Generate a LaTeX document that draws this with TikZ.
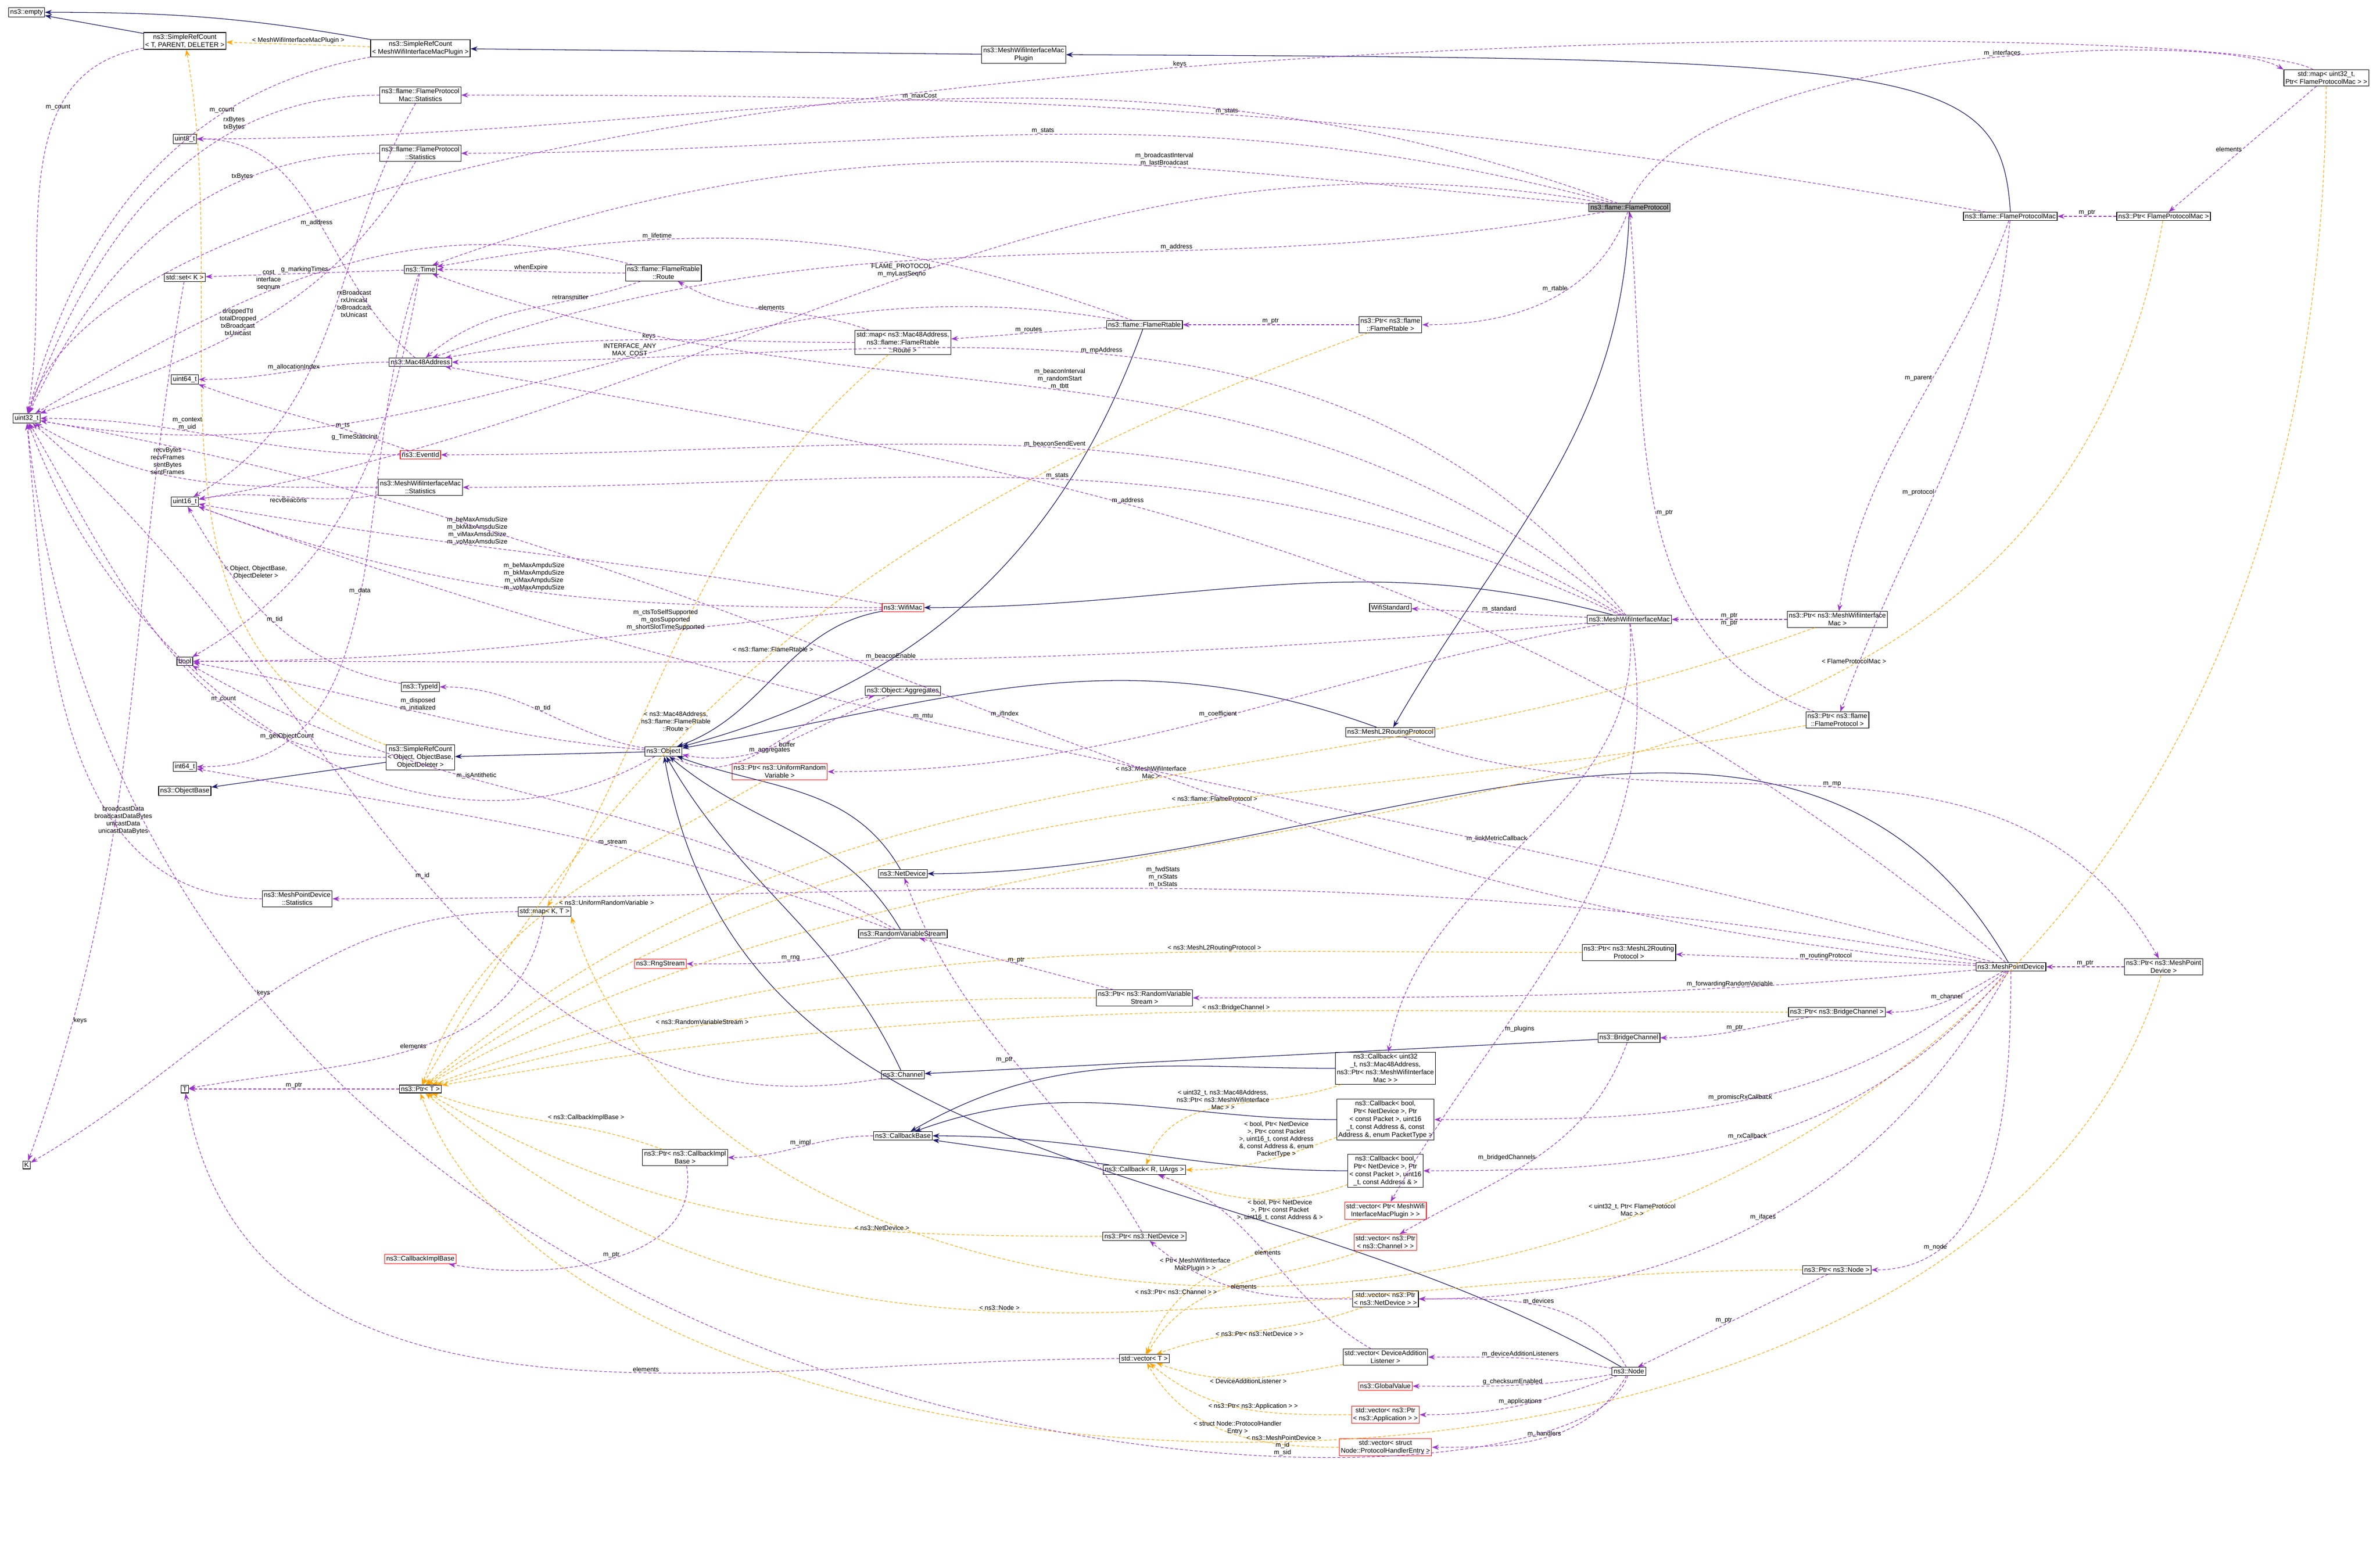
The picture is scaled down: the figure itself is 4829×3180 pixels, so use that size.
\documentclass[tikz,border=0pt]{standalone}
\usepackage{fontspec}
\setmainfont{Liberation Sans}
\usetikzlibrary{arrows.meta}
\definecolor{inhblue}{HTML}{191970}
\definecolor{usepurple}{HTML}{9A32CD}
\definecolor{tmplorange}{HTML}{FFA500}

\begin{document}
\begin{tikzpicture}[x=0.25pt, y=-0.25pt,
  every node/.style={font=\fontsize{3.4}{4}\selectfont},
  cls/.style={draw, line width=0.3pt, align=center, inner sep=0.8pt, fill=white},
  undoc/.style={cls, draw=red},
  lbl/.style={align=center, inner sep=0.25pt, font=\fontsize{3.25}{3.75}\selectfont},
  inh/.style={draw=inhblue, line width=0.32pt, -{Stealth[length=3.5pt,width=2.5pt]}},
  use/.style={draw=usepurple, dash pattern=on 1.5pt off 1pt, line width=0.3pt, -{Stealth[length=3.5pt,width=2.5pt]}},
  tmpl/.style={draw=tmplorange, dash pattern=on 1.5pt off 1pt, line width=0.3pt, -{Stealth[length=3.5pt,width=2.5pt]}}]
\useasboundingbox (0,0) rectangle (4829,3180);

% left columns
\node[cls] (empty) at (54,25) {ns3::empty};
\node[cls] (srcT) at (375,83) {ns3::SimpleRefCount\\< T, PARENT, DELETER >};
\node[cls] (srcPlugin) at (853,98) {ns3::SimpleRefCount\\< MeshWifiInterfaceMacPlugin >};
\node[cls] (fpmStats) at (853,193) {ns3::flame::FlameProtocol\\Mac::Statistics};
\node[cls] (ueight) at (375,282) {uint8\_t};
\node[cls] (fpStats) at (853,311) {ns3::flame::FlameProtocol\\::Statistics};
\node[cls] (time) at (853,547) {ns3::Time};
\node[cls] (setK) at (375,563) {std::set< K >};
\node[cls] (route) at (1346,554) {ns3::flame::FlameRtable\\::Route};
\node[cls] (mac) at (853,735) {ns3::Mac48Address};
\node[cls] (usixtyfour) at (375,770) {uint64\_t};
\node[cls] (uthirtytwo) at (54,849) {uint32\_t};
\node[undoc] (eventid) at (853,923) {ns3::EventId};
\node[cls] (mwimStats) at (853,989) {ns3::MeshWifiInterfaceMac\\::Statistics};
\node[cls] (usixteen) at (375,1018) {uint16\_t};
\node[cls] (bool) at (375,1342) {bool};
\node[cls] (typeid) at (853,1394) {ns3::TypeId};
\node[cls] (srcObject) at (853,1537) {ns3::SimpleRefCount\\< Object, ObjectBase,\\ObjectDeleter >};
\node[cls] (object) at (1346,1525) {ns3::Object};
\node[cls] (isixtyfour) at (375,1556) {int64\_t};
\node[cls] (objectbase) at (375,1605) {ns3::ObjectBase};
\node[cls] (mpdStats) at (603,1824) {ns3::MeshPointDevice\\::Statistics};
\node[cls] (mapKT) at (1105,1850) {std::map< K, T >};
\node[undoc] (rng) at (1340,1956) {ns3::RngStream};
\node[cls] (ptrT) at (853,2210) {ns3::Ptr< T >};
\node[cls] (T) at (375,2210) {T};
\node[cls] (K) at (54,2364) {K};
\node[cls] (ptrCbImpl) at (1390,2349) {ns3::Ptr< ns3::CallbackImpl\\Base >};
\node[undoc] (cbImpl) at (853,2555) {ns3::CallbackImplBase};

% middle columns
\node[cls] (plugin) at (2077,111) {ns3::MeshWifiInterfaceMac\\Plugin};
\node[cls] (mapRoute) at (1832,695) {std::map< ns3::Mac48Address,\\ns3::flame::FlameRtable\\::Route >};
\node[cls] (rtable) at (2322,659) {ns3::flame::FlameRtable};
\node[cls] (ptrRtable) at (2821,659) {ns3::Ptr< ns3::flame\\::FlameRtable >};
\node[undoc] (wifimac) at (1832,1233) {ns3::WifiMac};
\node[cls] (wifistd) at (2821,1233) {WifiStandard};
\node[cls] (aggregates) at (1832,1402) {ns3::Object::Aggregates};
\node[cls] (ltwo) at (2821,1486) {ns3::MeshL2RoutingProtocol};
\node[undoc] (ptrUrv) at (1582,1566) {ns3::Ptr< ns3::UniformRandom\\Variable >};
\node[cls] (netdevice) at (1832,1773) {ns3::NetDevice};
\node[cls] (rvs) at (1832,1895) {ns3::RandomVariableStream};
\node[cls] (ptrRvs) at (2322,2025) {ns3::Ptr< ns3::RandomVariable\\Stream >};
\node[cls] (channel) at (1832,2181) {ns3::Channel};
\node[cls] (cbbase) at (1832,2305) {ns3::CallbackBase};
\node[cls] (cbRU) at (2322,2374) {ns3::Callback< R, UArgs >};
\node[cls] (ptrNetdev) at (2322,2509) {ns3::Ptr< ns3::NetDevice >};
\node[cls] (vecT) at (2322,2757) {std::vector< T >};
\node[cls] (cbUint) at (2811,2168) {ns3::Callback< uint32\\\_t, ns3::Mac48Address,\\ns3::Ptr< ns3::MeshWifiInterface\\Mac > >};
\node[cls] (cbEnum) at (2811,2272) {ns3::Callback< bool,\\Ptr< NetDevice >, Ptr\\< const Packet >, uint16\\\_t, const Address \&, const\\Address \&, enum PacketType >};
\node[cls] (cbAddr) at (2811,2376) {ns3::Callback< bool,\\Ptr< NetDevice >, Ptr\\< const Packet >, uint16\\\_t, const Address \& >};
\node[undoc] (vecPlugin) at (2811,2457) {std::vector< Ptr< MeshWifi\\InterfaceMacPlugin > >};
\node[undoc] (vecChannel) at (2811,2521) {std::vector< ns3::Ptr\\< ns3::Channel > >};
\node[cls] (vecNetdev) at (2811,2636) {std::vector< ns3::Ptr\\< ns3::NetDevice > >};
\node[cls] (vecDal) at (2811,2754) {std::vector< DeviceAddition\\Listener >};
\node[undoc] (global) at (2811,2813) {ns3::GlobalValue};
\node[undoc] (vecApp) at (2811,2871) {std::vector< ns3::Ptr\\< ns3::Application > >};
\node[undoc] (vecPhe) at (2811,2937) {std::vector< struct\\Node::ProtocolHandlerEntry >};

% right columns
\node[cls, fill=black!30] (protocol) at (3306,421) {ns3::flame::FlameProtocol};
\node[cls] (fpmac) at (4079,439) {ns3::flame::FlameProtocolMac};
\node[cls] (ptrFpmac) at (4390,439) {ns3::Ptr< FlameProtocolMac >};
\node[cls] (mapIf) at (4720,158) {std::map< uint32\_t,\\Ptr< FlameProtocolMac > >};
\node[cls] (mwim) at (3306,1257) {ns3::MeshWifiInterfaceMac};
\node[cls] (ptrMwim) at (3728,1257) {ns3::Ptr< ns3::MeshWifiInterface\\Mac >};
\node[cls] (ptrFp) at (3728,1461) {ns3::Ptr< ns3::flame\\::FlameProtocol >};
\node[cls] (ptrLtwo) at (3305,1933) {ns3::Ptr< ns3::MeshL2Routing\\Protocol >};
\node[cls] (mpd) at (4080,1962) {ns3::MeshPointDevice};
\node[cls] (ptrMpd) at (4390,1962) {ns3::Ptr< ns3::MeshPoint\\Device >};
\node[cls] (ptrBridge) at (3727,2054) {ns3::Ptr< ns3::BridgeChannel >};
\node[cls] (bridge) at (3305,2106) {ns3::BridgeChannel};
\node[cls] (ptrNode) at (3727,2577) {ns3::Ptr< ns3::Node >};
\node[cls] (node) at (3305,2783) {ns3::Node};

% inheritance
\draw[inh] (srcT) -- (empty);
\draw[inh] (srcPlugin) to[out=170,in=0] (empty);
\draw[inh] (plugin) -- (srcPlugin);
\draw[inh] (fpmac.north) .. controls (4060,130) and (3900,118) .. (plugin.east);
\draw[inh] (protocol) to[out=-92,in=60] (ltwo);
\draw[inh] (ltwo) to[out=160,in=10] (object);
\draw[inh] (rtable) to[out=-110,in=15] (object);
\draw[inh] (wifimac) to[out=190,in=20] (object);
\draw[inh] (mwim) to[out=165,in=0] (wifimac);
\draw[inh] (object) -- (srcObject);
\draw[inh] (srcObject) -- (objectbase);
\draw[inh] (netdevice) to[out=120,in=-20] (object);
\draw[inh] (rvs) to[out=120,in=-40] (object);
\draw[inh] (channel) to[out=115,in=-60] (object);
\draw[inh] (node) to[out=150,in=-80] (object);
\draw[inh] (mpd) to[out=120,in=0] (netdevice);
\draw[inh] (bridge) -- (channel);
\draw[inh] (cbRU) -- (cbbase);
\draw[inh] (cbUint) to[out=180,in=30] (cbbase);
\draw[inh] (cbEnum) to[out=180,in=20] (cbbase);
\draw[inh] (cbAddr) to[out=180,in=0] (cbbase);

% template instances
\draw[tmpl] (srcPlugin) -- node[lbl, above] {< MeshWifiInterfaceMacPlugin >} (srcT);
\draw[tmpl] (srcObject) to[out=160,in=-80] node[lbl, pos=0.35, right] {< Object, ObjectBase,\\ObjectDeleter >} (srcT);
\draw[tmpl] (mapRoute) to[out=-140,in=60] node[lbl, pos=0.7, right] {< ns3::Mac48Address,\\ns3::flame::FlameRtable\\::Route >} (mapKT);
\draw[tmpl] (mapIf) .. controls (4700,3080) and (1500,3030) .. node[lbl, pos=0.45, above] {< uint32\_t, Ptr< FlameProtocol\\Mac > >} (mapKT.south east);
\draw[tmpl] (ptrRtable) to[out=-160,in=60] node[lbl, pos=0.55, above] {< ns3::flame::FlameRtable >} (ptrT);
\draw[tmpl] (ptrUrv) to[out=-150,in=70] node[lbl, pos=0.5, right] {< ns3::UniformRandomVariable >} (ptrT);
\draw[tmpl] (ptrMwim) to[out=-160,in=40] node[lbl, pos=0.45, above] {< ns3::MeshWifiInterface\\Mac >} (ptrT);
\draw[tmpl] (ptrFp) to[out=-170,in=35] node[lbl, pos=0.4, above] {< ns3::flame::FlameProtocol >} (ptrT);
\draw[tmpl] (ptrFpmac) to[out=-100,in=30] node[lbl, pos=0.3, above] {< FlameProtocolMac >} (ptrT);
\draw[tmpl] (ptrLtwo) to[out=180,in=20] node[lbl, pos=0.3, above] {< ns3::MeshL2RoutingProtocol >} (ptrT);
\draw[tmpl] (ptrRvs) to[out=180,in=15] node[lbl, pos=0.6, above] {< ns3::RandomVariableStream >} (ptrT);
\draw[tmpl] (ptrBridge) to[out=180,in=10] node[lbl, pos=0.4, above] {< ns3::BridgeChannel >} (ptrT);
\draw[tmpl] (ptrCbImpl) to[out=160,in=-20] node[lbl, pos=0.5, above right] {< ns3::CallbackImplBase >} (ptrT);
\draw[tmpl] (ptrNetdev) to[out=180,in=-30] node[lbl, pos=0.3, above] {< ns3::NetDevice >} (ptrT);
\draw[tmpl] (ptrNode) to[out=180,in=-40] node[lbl, pos=0.55, above] {< ns3::Node >} (ptrT);
\draw[tmpl] (ptrMpd) .. controls (4000,3250) and (1200,3150) .. node[lbl, pos=0.5, above] {< ns3::MeshPointDevice >} (ptrT.south);
\draw[tmpl] (cbUint) to[out=200,in=70] node[lbl, pos=0.3, left] {< uint32\_t, ns3::Mac48Address,\\ns3::Ptr< ns3::MeshWifiInterface\\Mac > >} (cbRU);
\draw[tmpl] (cbEnum) to[out=200,in=0] node[lbl, pos=0.4, above] {< bool, Ptr< NetDevice\\>, Ptr< const Packet\\>, uint16\_t, const Address\\\&, const Address \&, enum\\PacketType >} (cbRU);
\draw[tmpl] (cbAddr) to[out=200,in=-20] node[lbl, pos=0.35, below] {< bool, Ptr< NetDevice\\>, Ptr< const Packet\\>, uint16\_t, const Address \& >} (cbRU);
\draw[tmpl] (vecPlugin) to[out=200,in=70] node[lbl, pos=0.5, left] {< Ptr< MeshWifiInterface\\MacPlugin > >} (vecT);
\draw[tmpl] (vecChannel) to[out=200,in=60] node[lbl, pos=0.6, left] {< ns3::Ptr< ns3::Channel > >} (vecT);
\draw[tmpl] (vecNetdev) to[out=200,in=20] node[lbl, pos=0.5, below] {< ns3::Ptr< ns3::NetDevice > >} (vecT);
\draw[tmpl] (vecDal) to[out=190,in=-20] node[lbl, pos=0.5, below] {< DeviceAdditionListener >} (vecT);
\draw[tmpl] (vecApp) to[out=180,in=-40] node[lbl, pos=0.45, above] {< ns3::Ptr< ns3::Application > >} (vecT);
\draw[tmpl] (vecPhe) to[out=180,in=-60] node[lbl, pos=0.45, above] {< struct Node::ProtocolHandler\\Entry >} (vecT);

% members
\draw[use] (srcT) to[out=190,in=80] node[lbl, pos=0.3, above] {m\_count} (uthirtytwo);
\draw[use] (srcPlugin) to[out=190,in=75] node[lbl, pos=0.3, above] {m\_count} (uthirtytwo);
\draw[use] (srcObject) to[out=180,in=-60] node[lbl, pos=0.35, above] {m\_count} (uthirtytwo);
\draw[use] (fpmStats) to[out=180,in=70] node[lbl, pos=0.3, above] {rxBytes\\txBytes} (uthirtytwo);
\draw[use] (fpStats) to[out=180,in=65] node[lbl, pos=0.3, above] {txBytes} (uthirtytwo);
\draw[use] (fpmStats) to[out=-120,in=30] node[lbl, pos=0.45, right] {rxBroadcast\\rxUnicast\\txBroadcast\\txUnicast} (usixteen);
\draw[use] (fpStats) to[out=-120,in=20] node[lbl, pos=0.5, left] {droppedTtl\\totalDropped\\txBroadcast\\txUnicast} (uthirtytwo);
\draw[use] (fpmac) to[out=170,in=0] node[lbl, pos=0.5, above] {m\_stats} (fpmStats);
\draw[use] (protocol) to[out=160,in=0] node[lbl, pos=0.5, above] {m\_maxCost} (ueight);
\draw[use] (protocol) to[out=165,in=0] node[lbl, pos=0.5, above] {m\_stats} (fpStats);
\draw[use] (protocol) to[out=170,in=10] node[lbl, pos=0.5, above] {FLAME\_PROTOCOL\\m\_myLastSeqno} (usixteen);
\draw[use] (protocol) to[out=175,in=20] node[lbl, pos=0.35, above] {m\_broadcastInterval\\m\_lastBroadcast} (time);
\draw[use] (protocol) to[out=190,in=20] node[lbl, pos=0.35, above] {m\_address} (mac);
\draw[use] (protocol) to[out=-110,in=0] node[lbl, pos=0.4, left] {m\_rtable} (ptrRtable);
\draw[use] (protocol.north) .. controls (3450,90) and (4500,60) .. node[lbl, pos=0.55, above] {m\_interfaces} (mapIf.north west);
\draw[use] (mapIf) .. controls (4500,20) and (300,20) .. node[lbl, pos=0.5, above] {keys} (uthirtytwo);
\draw[use] (mapIf) -- node[lbl, pos=0.5, left] {elements} (ptrFpmac);
\draw[use] (ptrFpmac) -- node[lbl, above] {m\_ptr} (fpmac);
\draw[use] (fpmac) to[out=-110,in=80] node[lbl, pos=0.4, left] {m\_parent} (ptrMwim);
\draw[use] (fpmac) to[out=-95,in=70] node[lbl, pos=0.55, left] {m\_protocol} (ptrFp);
\draw[use] (ptrFp) to[out=160,in=-85] node[lbl, pos=0.5, right] {m\_ptr} (protocol);
\draw[use] (ptrMwim) -- node[lbl, above] {m\_ptr} node[lbl, below] {m\_ptr} (mwim);
\draw[use] (ptrRtable) -- node[lbl, above] {m\_ptr} (rtable);
\draw[use] (rtable) -- node[lbl, above] {m\_routes} (mapRoute);
\draw[use] (rtable) to[out=160,in=10] node[lbl, pos=0.7, above] {m\_lifetime} (time);
\draw[use] (rtable) to[out=170,in=-10] node[lbl, pos=0.45, above] {INTERFACE\_ANY\\MAX\_COST} (uthirtytwo);
\draw[use] (mapRoute) to[out=160,in=-30] node[lbl, pos=0.5, above] {elements} (route);
\draw[use] (mapRoute) to[out=180,in=10] node[lbl, pos=0.5, above] {keys} (mac);
\draw[use] (route) to[out=180,in=0] node[lbl, pos=0.5, above] {whenExpire} (time);
\draw[use] (route) to[out=200,in=40] node[lbl, pos=0.3, above] {retransmitter} (mac);
\draw[use] (route) to[out=165,in=30] node[lbl, pos=0.6, above] {cost\\interface\\seqnum} (uthirtytwo);
\draw[use] (time) -- node[lbl, above] {g\_markingTimes} (setK);
\draw[use] (time) to[out=-110,in=0] node[lbl, pos=0.5, above] {m\_data} (isixtyfour);
\draw[use] (time) to[out=-100,in=30] node[lbl, pos=0.35, left] {g\_TimeStaticInit} (bool);
\draw[use] (mac) to[out=140,in=0] node[lbl, pos=0.5, below] {m\_address} (ueight);
\draw[use] (mac) to[out=180,in=0] node[lbl, pos=0.5, above] {m\_allocationIndex} (usixtyfour);
\draw[use] (eventid) to[out=160,in=-20] node[lbl, pos=0.3, above] {m\_ts} (usixtyfour);
\draw[use] (eventid) to[out=180,in=0] node[lbl, pos=0.6, above] {m\_context\\m\_uid} (uthirtytwo);
\draw[use] (mwimStats) to[out=180,in=-30] node[lbl, pos=0.6, above] {recvBytes\\recvFrames\\sentBytes\\sentFrames} (uthirtytwo);
\draw[use] (mwimStats) to[out=190,in=10] node[lbl, pos=0.5, below] {recvBeacons} (usixteen);
\draw[use] (setK) to[out=-100,in=70] node[lbl, pos=0.85, right] {keys} (K);
\draw[use] (mapKT) to[out=180,in=30] node[lbl, pos=0.5, above] {keys} (K);
\draw[use] (mapKT) to[out=-100,in=10] node[lbl, pos=0.5, above] {elements} (T);
\draw[use] (ptrT) -- node[lbl, above] {m\_ptr} (T);
\draw[use] (vecT) to[out=180,in=-80] node[lbl, pos=0.4, above] {elements} (T);
\draw[use] (typeid) to[out=170,in=-60] node[lbl, pos=0.5, above] {m\_tid} (usixteen);
\draw[use] (object) to[out=170,in=0] node[lbl, pos=0.5, above] {m\_tid} (typeid);
\draw[use] (object) to[out=175,in=-10] node[lbl, pos=0.5, above] {m\_disposed\\m\_initialized} (bool);
\draw[use] (object) to[out=-30,in=190] node[lbl, pos=0.5, below] {m\_aggregates} (aggregates);
\draw[use] (aggregates) to[out=200,in=-10] node[lbl, pos=0.5, below] {buffer} (object);
\draw[use] (object) to[out=-150,in=-70] node[lbl, pos=0.5, above] {m\_getObjectCount} (uthirtytwo);
\draw[use] (rvs) to[out=150,in=-30] node[lbl, pos=0.6, above] {m\_isAntithetic} (bool);
\draw[use] (rvs) to[out=-160,in=0] node[lbl, pos=0.5, above] {m\_rng} (rng);
\draw[use] (rvs) to[out=160,in=-10] node[lbl, pos=0.4, above] {m\_stream} (isixtyfour);
\draw[use] (ptrRvs) -- node[lbl, above] {m\_ptr} (rvs);
\draw[use] (mpdStats) to[out=180,in=-85] node[lbl, pos=0.3, above] {broadcastData\\broadcastDataBytes\\unicastData\\unicastDataBytes} (uthirtytwo);
\draw[use] (wifimac) to[out=170,in=-10] node[lbl, pos=0.6, above] {m\_beMaxAmsduSize\\m\_bkMaxAmsduSize\\m\_viMaxAmsduSize\\m\_voMaxAmsduSize} (usixteen);
\draw[use] (wifimac) to[out=180,in=-20] node[lbl, pos=0.5, above] {m\_beMaxAmpduSize\\m\_bkMaxAmpduSize\\m\_viMaxAmpduSize\\m\_voMaxAmpduSize} (usixteen);
\draw[use] (wifimac) to[out=185,in=0] node[lbl, pos=0.3, above] {m\_ctsToSelfSupported\\m\_qosSupported\\m\_shortSlotTimeSupported} (bool);
\draw[use] (mwim) -- node[lbl, above] {m\_standard} (wifistd);
\draw[use] (mwim) to[out=150,in=0] node[lbl, pos=0.5, above] {m\_beaconSendEvent} (eventid);
\draw[use] (mwim) to[out=155,in=0] node[lbl, pos=0.5, above] {m\_stats} (mwimStats);
\draw[use] (mwim) to[out=140,in=-20] node[lbl, pos=0.5, above] {m\_beaconInterval\\m\_randomStart\\m\_tbtt} (time);
\draw[use] (mwim) to[out=130,in=0] node[lbl, pos=0.5, above] {m\_mpAddress} (mac);
\draw[use] (mwim) to[out=185,in=0] node[lbl, pos=0.5, above] {m\_beaconEnable} (bool);
\draw[use] (mwim) to[out=190,in=0] node[lbl, pos=0.5, above] {m\_coefficient} (ptrUrv);
\draw[use] (mwim) to[out=-85,in=80] node[lbl, pos=0.5, left] {m\_linkMetricCallback} (cbUint);
\draw[use] (mwim) to[out=-80,in=60] node[lbl, pos=0.7, right] {m\_plugins} (vecPlugin);
\draw[use] (ltwo) to[out=-20,in=120] node[lbl, pos=0.5, above] {m\_mp} (ptrMpd);
\draw[use] (mpd) -- node[lbl, above] {m\_routingProtocol} (ptrLtwo);
\draw[use] (mpd) to[out=-150,in=0] node[lbl, pos=0.5, above] {m\_channel} (ptrBridge);
\draw[use] (ptrBridge) to[out=190,in=0] node[lbl, pos=0.5, above] {m\_ptr} (bridge);
\draw[use] (bridge) to[out=-110,in=30] node[lbl, pos=0.5, left] {m\_bridgedChannels} (vecChannel);
\draw[use] (mpd) to[out=-140,in=0] node[lbl, pos=0.5, above] {m\_promiscRxCallback} (cbEnum);
\draw[use] (mpd) to[out=-130,in=0] node[lbl, pos=0.5, above] {m\_rxCallback} (cbAddr);
\draw[use] (mpd) to[out=-120,in=0] node[lbl, pos=0.5, above] {m\_ifaces} (vecNetdev);
\draw[use] (mpd) to[out=-90,in=0] node[lbl, pos=0.8, above] {m\_node} (ptrNode);
\draw[use] (mpd) to[out=175,in=-10] node[lbl, pos=0.5, above] {m\_ifIndex} (uthirtytwo);
\draw[use] (mpd) to[out=170,in=0] node[lbl, pos=0.5, above] {m\_fwdStats\\m\_rxStats\\m\_txStats} (mpdStats);
\draw[use] (mpd) to[out=185,in=0] node[lbl, pos=0.3, above] {m\_forwardingRandomVariable} (ptrRvs);
\draw[use] (mpd) to[out=140,in=-10] node[lbl, pos=0.6, above] {m\_address} (mac);
\draw[use] (mpd) to[out=165,in=-20] node[lbl, pos=0.6, above] {m\_mtu} (usixteen);
\draw[use] (ptrMpd) -- node[lbl, above] {m\_ptr} (mpd);
\draw[use] (ptrNode) -- node[lbl, pos=0.5, left] {m\_ptr} (node);
\draw[use] (node) to[out=120,in=0] node[lbl, pos=0.5, above] {m\_devices} (vecNetdev);
\draw[use] (node) to[out=170,in=0] node[lbl, pos=0.5, above] {m\_deviceAdditionListeners} (vecDal);
\draw[use] (node) to[out=190,in=0] node[lbl, pos=0.5, above] {g\_checksumEnabled} (global);
\draw[use] (node) to[out=200,in=0] node[lbl, pos=0.5, above] {m\_applications} (vecApp);
\draw[use] (node) to[out=-120,in=0] node[lbl, pos=0.5, above] {m\_handlers} (vecPhe);
\draw[use] (node) .. controls (3200,3150) and (300,3100) .. node[lbl, pos=0.3, above] {m\_id\\m\_sid} (uthirtytwo);
\draw[use] (ptrNetdev) to[out=120,in=-70] node[lbl, pos=0.5, left] {m\_ptr} (netdevice);
\draw[use] (vecNetdev) to[out=180,in=-40] node[lbl, pos=0.5, above] {elements} (ptrNetdev);
\draw[use] (vecDal) to[out=150,in=-20] node[lbl, pos=0.5, above] {elements} (cbRU);
\draw[use] (cbbase) to[out=180,in=0] node[lbl, pos=0.5, above] {m\_impl} (ptrCbImpl);
\draw[use] (ptrCbImpl) to[out=-80,in=-10] node[lbl, pos=0.5, above] {m\_ptr} (cbImpl);
\draw[use] (channel) to[out=190,in=-40] node[lbl, pos=0.5, above] {m\_id} (uthirtytwo);
\end{tikzpicture}
\end{document}
